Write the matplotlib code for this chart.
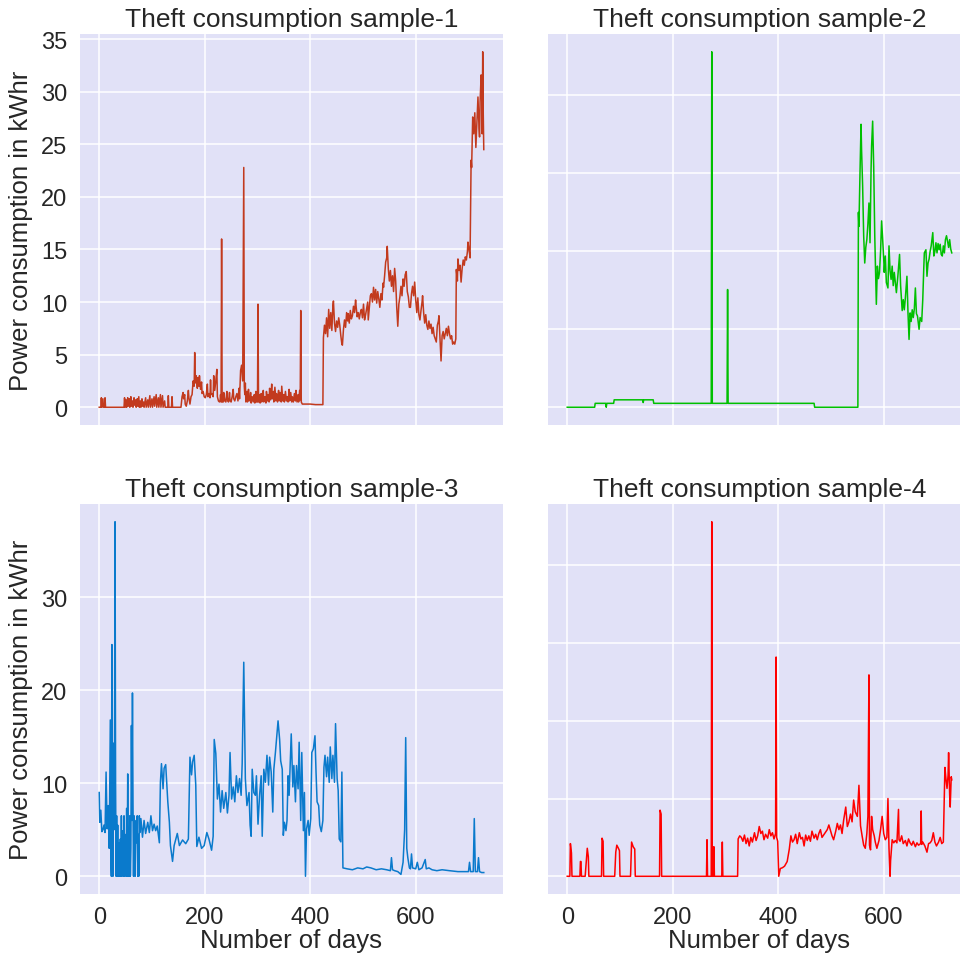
import matplotlib
matplotlib.use("Agg")
import matplotlib.pyplot as plt

# ---------------- data: (day, kWh) points ----------------
sample1 = [(0, 0), (3, 0), (4, 0.9), (5, 0), (7, 0.8), (8, 0), (10, 0), (11, 0.9), (12, 0), (47, 0),
           (48, 0.9), (49, 0), (51, 0.7), (52, 0), (54, 0.9), (55, 0.1), (57, 0.8), (58, 0), (60, 1.0),
           (61, 0.1), (63, 0.6), (64, 0), (66, 0.9), (67, 0.2), (69, 0.7), (70, 0), (72, 0.8), (73, 0.1),
           (75, 1.0), (76, 0), (78, 0.6), (79, 0), (81, 0.8), (82, 0.1), (84, 0.5), (85, 0), (88, 0.9),
           (89, 0), (92, 0.7), (93, 0), (96, 1.1), (97, 0), (100, 0.8), (101, 0), (104, 1.0), (105, 0.1),
           (108, 1.2), (109, 0), (112, 0.9), (113, 0), (116, 1.2), (117, 0), (120, 1.1), (121, 0),
           (124, 0.6), (125, 0), (130, 0), (131, 1.1), (132, 0), (137, 0), (138, 1.0), (139, 0),
           (155, 0), (157, 1.0), (159, 1.4), (160, 0.8), (162, 1.2), (163, 0.3), (165, 0.1), (167, 0.6),
           (169, 1.6), (170, 0.9), (172, 0.3), (174, 1.0), (176, 1.2), (178, 2.5), (180, 2.0), (181, 5.2),
           (182, 2.3), (184, 3.0), (186, 1.8), (187, 2.8), (189, 2.0), (190, 3.0), (192, 1.7), (194, 2.4),
           (195, 1.3), (197, 1.5), (199, 1.0), (201, 0.9), (203, 1.2), (205, 2.2), (206, 1.0), (208, 1.3),
           (210, 0.9), (211, 2.6), (212, 1.2), (214, 1.3), (216, 1.0), (217, 3.0), (219, 1.6), (221, 2.5),
           (223, 3.6), (224, 1.0), (226, 0.6), (228, 0.5), (229, 0.6), (230, 1.2), (231, 0.5), (232, 16.0),
           (233, 0.5), (235, 0.5), (236, 1.4), (238, 0.6), (240, 0.5), (242, 1.5), (243, 0.7), (245, 0.5),
           (247, 1.4), (248, 0.6), (250, 0.5), (252, 1.0), (254, 1.7), (255, 0.8), (257, 0.6), (259, 1.0),
           (261, 1.3), (263, 0.6), (265, 1.8), (266, 0.8), (268, 3.5), (270, 4.0), (272, 2.5), (274, 22.8),
           (275, 2.0), (276, 1.2), (277, 2.3), (278, 0.5), (280, 1.5), (281, 0.5), (283, 1.7), (284, 0.6),
           (286, 0.8), (287, 1.4), (288, 0.4), (290, 1.0), (292, 0.5), (294, 1.2), (295, 0.4), (297, 1.5),
           (298, 0.5), (299, 0.8), (300, 0.5), (301, 9.8), (302, 0.5), (304, 1.2), (305, 0.4), (307, 1.3),
           (308, 0.5), (310, 0.8), (311, 1.6), (312, 0.5), (314, 1.0), (316, 0.4), (317, 1.5), (319, 0.6),
           (320, 1.2), (322, 0.5), (323, 1.8), (325, 0.7), (327, 2.2), (328, 0.8), (330, 1.5), (331, 0.5),
           (333, 1.9), (335, 0.6), (336, 1.3), (338, 0.5), (340, 1.6), (341, 0.6), (343, 1.4), (345, 0.5),
           (346, 2.0), (348, 0.6), (350, 1.2), (351, 0.5), (353, 1.5), (355, 0.6), (356, 1.0), (358, 0.5),
           (360, 1.7), (361, 0.6), (363, 1.4), (365, 0.5), (366, 1.0), (368, 0.5), (370, 1.3), (372, 0.6),
           (373, 1.6), (375, 0.5), (377, 1.2), (378, 0.5), (380, 1.6), (381, 0.7), (382, 9.2), (383, 0.5),
           (385, 0.3), (400, 0.3), (410, 0.25), (424, 0.25), (425, 6.6), (427, 7.8), (429, 7.0), (431, 8.5),
           (433, 6.7), (435, 9.3), (437, 7.5), (439, 9.0), (441, 7.3), (443, 9.7), (444, 10.1), (446, 8.0),
           (448, 7.2), (450, 8.2), (452, 7.6), (454, 8.5), (456, 7.8), (458, 6.8), (460, 6.0), (461, 5.9),
           (463, 7.4), (465, 8.3), (467, 7.6), (469, 9.0), (471, 8.2), (472, 8.9), (474, 8.0), (476, 9.2),
           (478, 8.4), (480, 8.7), (482, 9.6), (484, 9.0), (486, 10.2), (487, 9.6), (489, 8.6), (491, 9.0),
           (493, 8.4), (495, 9.0), (497, 9.3), (499, 8.5), (501, 9.8), (503, 8.3), (505, 8.8), (507, 9.4),
           (509, 10.0), (510, 8.3), (512, 9.5), (514, 10.6), (516, 10.8), (518, 10.0), (520, 11.4),
           (522, 10.2), (524, 11.2), (526, 9.9), (528, 11.0), (530, 10.3), (532, 9.5), (534, 10.8),
           (536, 10.2), (538, 11.8), (539, 11.4), (541, 12.5), (543, 13.8), (545, 14.2), (546, 15.3),
           (548, 13.2), (550, 12.0), (552, 13.0), (554, 11.5), (556, 12.5), (558, 11.0), (560, 13.2),
           (562, 12.0), (564, 9.5), (566, 7.7), (568, 9.8), (570, 10.5), (572, 11.5), (574, 10.6),
           (576, 12.2), (578, 11.5), (580, 12.6), (582, 12.9), (584, 11.0), (586, 10.5), (588, 9.5),
           (590, 9.5), (592, 10.8), (594, 11.5), (596, 10.6), (598, 11.9), (600, 10.2), (602, 9.0),
           (604, 10.4), (606, 8.8), (608, 8.3), (610, 9.2), (612, 10.0), (613, 10.6), (615, 9.0), (617, 8.0),
           (619, 8.8), (621, 7.8), (623, 7.4), (625, 8.2), (627, 7.5), (629, 7.9), (631, 7.0), (633, 7.6),
           (635, 6.8), (637, 6.5), (639, 6.2), (641, 7.8), (643, 8.2), (644, 8.7), (646, 6.5), (648, 4.4),
           (650, 6.8), (652, 7.2), (654, 6.5), (656, 7.0), (658, 7.5), (660, 6.8), (662, 7.7), (664, 7.0),
           (666, 6.5), (668, 6.8), (670, 6.0), (672, 6.2), (674, 6.0), (676, 6.5), (677, 13.1), (679, 12.0),
           (680, 14.1), (682, 13.0), (684, 13.5), (686, 11.9), (688, 13.2), (690, 14.0), (692, 13.5),
           (694, 14.3), (696, 14.0), (698, 14.8), (699, 15.7), (701, 15.0), (703, 14.2), (705, 23.5),
           (706, 22.8), (708, 27.6), (710, 26.0), (712, 28.0), (714, 24.7), (716, 27.0), (718, 29.5),
           (720, 26.5), (721, 25.7), (722, 29.0), (724, 31.6), (725, 30.0), (726, 26.0), (727, 33.8),
           (728, 28.0), (729, 24.5)]

sample2 = [(0, 0), (52, 0), (53, 0.5), (73, 0.5), (74, 0.0), (75, 0.5), (88, 0.5), (89, 0.95),
           (143, 0.95), (144, 0.6), (145, 0.95), (163, 0.95), (164, 0.5), (273, 0.5), (274, 45.6),
           (275, 0.5), (303, 0.5), (304, 15.1), (305, 0.5), (468, 0.5), (469, 0), (551, 0), (552, 25.0),
           (553, 23.2), (555, 30.0), (557, 36.3), (558, 33.0), (560, 28.4), (562, 22.0), (564, 18.5),
           (566, 20.5), (568, 21.5), (570, 23.5), (572, 26.2), (574, 21.1), (576, 30.5), (577, 33.5),
           (579, 36.7), (581, 30.9), (583, 22.0), (584, 19.0), (586, 13.2), (588, 18.1), (590, 16.5),
           (592, 17.3), (594, 20.0), (596, 23.9), (598, 21.5), (600, 19.0), (601, 17.3), (603, 19.4),
           (605, 16.0), (608, 15.3), (610, 20.7), (612, 17.5), (614, 16.4), (616, 18.1), (618, 15.6),
           (620, 17.3), (622, 16.0), (624, 14.7), (627, 17.0), (630, 19.6), (632, 15.6), (635, 12.4),
           (637, 13.8), (639, 12.5), (641, 14.0), (644, 16.8), (646, 12.1), (648, 8.7), (650, 12.1),
           (652, 11.0), (654, 12.5), (656, 11.5), (658, 12.6), (660, 15.3), (662, 12.0), (664, 11.7),
           (667, 10.0), (669, 11.5), (672, 11.0), (674, 13.8), (676, 18.0), (677, 19.8), (680, 20.2),
           (682, 16.8), (684, 18.5), (686, 19.0), (688, 20.0), (690, 20.7), (693, 22.4), (695, 19.4),
           (697, 20.0), (699, 21.1), (701, 19.8), (703, 21.0), (705, 20.2), (707, 20.9), (709, 19.6),
           (711, 19.4), (713, 20.7), (715, 19.8), (717, 21.5), (719, 22.0), (721, 21.3), (723, 20.5),
           (725, 21.5), (727, 20.3), (729, 19.8)]

sample3 = [(0, 9.0), (1, 5.8), (3, 7.1), (5, 4.8), (7, 5.0), (9, 5.5), (11, 4.7), (13, 11.2), (15, 5.1),
           (17, 7.6), (19, 3.0), (21, 16.8), (22, 2.0), (23, 0), (24, 24.9), (25, 3.0), (26, 0), (27, 14.3),
           (28, 5.0), (29, 13.0), (30, 38.1), (31, 10.0), (32, 0), (33, 6.5), (34, 0), (35, 5.5), (36, 0),
           (37, 2.5), (38, 3.6), (39, 0), (40, 4.0), (41, 0), (42, 6.5), (43, 0), (44, 4.9), (45, 1.0),
           (46, 0), (47, 6.5), (48, 0), (49, 4.5), (50, 2.0), (51, 0), (52, 7.3), (53, 0), (54, 11.0),
           (55, 0), (56, 5.0), (57, 0), (58, 6.5), (59, 0), (60, 3.0), (61, 16.2), (62, 6.0), (63, 19.7),
           (64, 8.0), (65, 0), (66, 6.5), (67, 4.0), (68, 0), (69, 4.6), (70, 6.0), (71, 3.6), (72, 6.5),
           (73, 0), (74, 4.5), (75, 0), (76, 6.5), (77, 4.7), (79, 6.2), (82, 4.2), (85, 6.0), (88, 4.6),
           (92, 5.8), (95, 4.7), (98, 6.5), (101, 4.9), (104, 5.6), (107, 4.9), (110, 5.4), (114, 3.6),
           (116, 10.1), (118, 12.1), (121, 9.4), (123, 11.6), (126, 12.0), (130, 8.0), (133, 5.8),
           (135, 3.3), (139, 1.6), (142, 3.3), (148, 4.6), (152, 3.3), (158, 3.9), (164, 3.5), (169, 4.0),
           (172, 12.8), (175, 10.9), (177, 12.3), (180, 13.0), (183, 9.8), (185, 3.2), (189, 4.2),
           (194, 3.0), (199, 3.3), (204, 4.7), (208, 4.0), (213, 2.8), (216, 4.3), (218, 14.7), (221, 13.2),
           (224, 8.3), (227, 9.9), (230, 6.9), (233, 9.2), (236, 7.3), (240, 9.0), (243, 6.8), (246, 8.7),
           (248, 13.3), (251, 8.3), (254, 9.6), (257, 8.0), (260, 10.8), (263, 9.0), (266, 10.5),
           (269, 8.7), (271, 12.1), (274, 23.0), (277, 10.5), (280, 7.6), (284, 9.0), (286, 5.5),
           (288, 4.3), (290, 11.5), (293, 9.0), (296, 8.7), (298, 10.8), (301, 5.6), (304, 8.7),
           (307, 10.8), (309, 4.3), (312, 11.5), (315, 10.1), (318, 13.0), (321, 9.8), (323, 12.8),
           (326, 11.2), (329, 6.9), (331, 11.5), (334, 13.3), (336, 14.7), (339, 16.7), (342, 14.7),
           (344, 12.4), (347, 11.5), (349, 4.4), (351, 5.8), (354, 4.9), (356, 6.0), (358, 10.8),
           (360, 8.7), (364, 15.3), (367, 9.6), (369, 11.9), (372, 8.0), (374, 11.9), (377, 9.4),
           (379, 14.4), (382, 6.0), (384, 13.3), (387, 4.9), (389, 9.0), (391, 0), (393, 5.1), (396, 6.0),
           (398, 4.4), (401, 6.2), (403, 13.3), (406, 13.7), (409, 15.1), (411, 11.2), (413, 8.0),
           (416, 7.6), (418, 5.5), (421, 4.8), (424, 6.0), (426, 11.7), (428, 13.0), (431, 10.7),
           (433, 12.8), (436, 10.1), (438, 13.9), (441, 10.5), (443, 13.0), (446, 10.1), (448, 16.4),
           (451, 10.5), (453, 9.2), (455, 4.0), (458, 3.7), (460, 11.2), (462, 0.9), (470, 0.8),
           (480, 0.7), (490, 0.9), (500, 0.8), (507, 1.0), (515, 0.9), (525, 0.7), (535, 0.8), (545, 0.7),
           (552, 0.6), (554, 2.0), (556, 0.7), (560, 0.6), (566, 0.5), (572, 0.2), (576, 1.5), (579, 5.0),
           (581, 14.9), (583, 3.0), (585, 2.0), (588, 0.9), (590, 0.8), (592, 2.4), (594, 0.9), (600, 0.8),
           (603, 1.5), (606, 0.7), (612, 0.9), (618, 1.8), (620, 0.8), (625, 0.9), (631, 0.7), (640, 0.6),
           (650, 0.7), (664, 0.6), (680, 0.5), (700, 0.5), (702, 1.5), (704, 0.5), (709, 0.5), (711, 6.2),
           (713, 0.5), (717, 0.5), (719, 2.0), (721, 0.5), (725, 0.4), (729, 0.4)]

sample4 = [(0, 0), (5, 0), (6, 4.2), (8, 3.0), (9, 0), (24, 0), (25, 1.9), (26, 1.9), (27, 0), (34, 0),
           (36, 1.9), (38, 3.6), (40, 2.5), (41, 0), (65, 0), (66, 4.9), (68, 4.5), (69, 0), (90, 0),
           (92, 3.1), (94, 4.0), (97, 3.6), (99, 3.3), (100, 0), (120, 0), (122, 4.4), (125, 3.8),
           (128, 3.5), (129, 0), (175, 0), (176, 8.5), (178, 8.0), (179, 0), (264, 0), (265, 4.7),
           (266, 0), (273, 0), (274, 45.6), (275, 0), (277, 0), (278, 3.8), (279, 0), (293, 0), (294, 4.4),
           (295, 0), (323, 0), (324, 4.8), (327, 5.2), (330, 5.0), (333, 4.5), (336, 5.3), (339, 4.2),
           (342, 4.9), (345, 3.9), (348, 5.0), (351, 4.4), (355, 5.6), (358, 4.6), (361, 5.2), (364, 6.4),
           (367, 5.5), (370, 5.8), (373, 4.7), (376, 5.4), (380, 4.9), (383, 6.0), (386, 5.2), (389, 5.6),
           (392, 4.8), (395, 5.5), (396, 28.2), (397, 5.0), (399, 4.5), (401, 0), (404, 1.0), (408, 1.1),
           (412, 1.3), (417, 1.9), (421, 3.5), (424, 5.2), (427, 4.4), (430, 4.7), (433, 5.4), (436, 4.2),
           (440, 5.6), (443, 4.8), (446, 5.0), (449, 3.9), (452, 5.3), (455, 4.6), (458, 5.2), (461, 4.5),
           (464, 5.8), (468, 4.9), (471, 5.4), (474, 4.7), (477, 5.5), (480, 6.0), (483, 5.0), (487, 5.4),
           (490, 5.7), (493, 6.0), (496, 6.6), (499, 5.9), (502, 5.2), (505, 4.7), (509, 5.8), (512, 6.8),
           (515, 6.0), (518, 6.6), (521, 5.5), (524, 7.2), (528, 8.9), (531, 6.4), (534, 7.0), (537, 8.0),
           (540, 7.0), (543, 9.8), (546, 8.3), (550, 7.7), (553, 11.7), (556, 6.5), (559, 5.2), (562, 4.0),
           (565, 3.6), (568, 5.5), (570, 7.7), (572, 25.9), (573, 4.0), (575, 3.4), (577, 7.7), (579, 6.0),
           (582, 5.2), (584, 4.4), (587, 3.6), (591, 4.6), (594, 6.0), (597, 7.7), (600, 5.5), (603, 4.7),
           (606, 5.0), (608, 10.0), (610, 3.6), (612, 0), (613, 2.0), (616, 4.7), (619, 4.3), (622, 4.6),
           (625, 4.3), (628, 8.6), (629, 4.7), (631, 4.5), (634, 5.2), (637, 4.2), (641, 4.6), (644, 3.9),
           (647, 4.8), (650, 4.3), (653, 4.0), (656, 4.5), (660, 3.8), (663, 4.3), (666, 4.0), (670, 4.2),
           (671, 8.4), (672, 4.1), (674, 4.4), (678, 3.9), (682, 3.1), (685, 4.2), (688, 4.3), (691, 4.6),
           (694, 5.6), (697, 4.4), (700, 3.9), (704, 4.4), (707, 5.0), (710, 4.2), (713, 4.4), (716, 14.0),
           (718, 12.5), (720, 11.3), (722, 13.0), (723, 15.9), (725, 10.5), (726, 8.9), (728, 12.8),
           (729, 12.4)]

titles = ["Theft consumption sample-1", "Theft consumption sample-2",
          "Theft consumption sample-3", "Theft consumption sample-4"]
xlabel = "Number of days"
ylabel = "Power consumption in kWhr"
xticks = [0, 200, 400, 600]
yticks = [[0, 5, 10, 15, 20, 25, 30, 35], [0, 10, 20, 30, 40],
          [0, 10, 20, 30], [0, 10, 20, 30, 40]]
colors = ["#C23A1E", "#00C000", "#0A7ACC", "#FF0000"]

# ---------------- styling ----------------
plt.rcParams["font.family"] = ["Liberation Sans", "DejaVu Sans"]
plt.rcParams["text.color"] = "#262626"
plt.rcParams["axes.labelcolor"] = "#262626"
plt.rcParams["xtick.color"] = "#262626"
plt.rcParams["ytick.color"] = "#262626"

W, H = 960, 954
fig = plt.figure(figsize=(W / 100, H / 100), dpi=100)


def px_rect(x0, y0, x1, y1):
    return [x0 / W, 1 - y1 / H, (x1 - x0) / W, (y1 - y0) / H]


rects = [px_rect(80, 35, 503, 426), px_rect(548, 35, 971, 426),
         px_rect(80, 505, 503, 895), px_rect(548, 505, 971, 895)]
samples = [sample1, sample2, sample3, sample4]

for i, (rect, pts, c, t) in enumerate(zip(rects, samples, colors, titles)):
    days = [p[0] for p in pts]
    vals = [p[1] for p in pts]
    ax = fig.add_axes(rect)
    ax.set_facecolor("#E1E1F7")
    ax.plot(days, vals, color=c, linewidth=1.1)
    ax.set_title(t, fontsize=19, pad=6)
    ax.grid(True, color="white", linewidth=1.1)
    ax.set_axisbelow(True)
    for s in ax.spines.values():
        s.set_visible(False)
    ax.tick_params(length=0, labelsize=17, pad=9)
    ax.set_xticks(xticks)
    ax.set_yticks(yticks[i])
    if i < 2:
        ax.set_xticklabels([])
    else:
        ax.set_xlabel(xlabel, fontsize=18.5, labelpad=0)
    if i % 2 == 1:
        ax.set_yticklabels([])
    else:
        ax.set_ylabel(ylabel, fontsize=18.5, labelpad=6)

fig.savefig("out.png", dpi=100)
